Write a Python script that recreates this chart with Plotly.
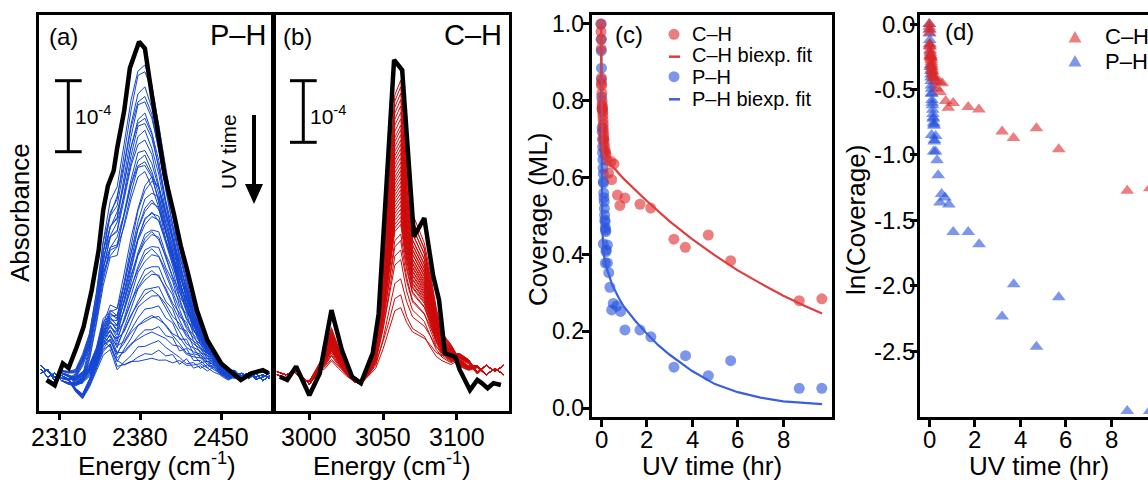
import numpy as np
import plotly.graph_objects as go

W, H = 1148, 483
FONT = "Liberation Sans, Arial, Helvetica, sans-serif"

# ---------------- (a) P-H spectra ----------------
ph_black_energy = [2299, 2306, 2313, 2318, 2325, 2331, 2338, 2344, 2348, 2352, 2357, 2360, 2366, 2371,
                   2379, 2384, 2390, 2396, 2401, 2409, 2415, 2421, 2429, 2438, 2450, 2460, 2467, 2476, 2486, 2491]
ph_black_abs = [-0.04, -0.11, 0.18, 0.12, 0.40, 0.67, 1.16, 1.69, 2.23, 2.55, 2.75, 3.05, 3.54, 4.12,
                4.47, 4.38, 3.76, 3.14, 2.70, 2.18, 1.75, 1.40, 0.89, 0.49, 0.18, 0.05, -0.04, 0.05, 0.09, 0.05]

ph_grid = [2294, 2300, 2306, 2312, 2318, 2324, 2330, 2336, 2342, 2348, 2354, 2360, 2366, 2372, 2378, 2384, 2390,
           2396, 2402, 2408, 2414, 2420, 2426, 2432, 2438, 2444, 2450, 2456, 2462, 2468, 2474, 2480, 2486, 2492]
ph_shape_upper = [0, 0, 0, 0.01, 0.02, 0.04, 0.08, 0.14, 0.24, 0.36, 0.48, 0.60, 0.74, 0.88, 0.98, 1.00, 0.93,
                  0.80, 0.66, 0.53, 0.41, 0.31, 0.22, 0.15, 0.10, 0.06, 0.04, 0.02, 0.01, 0, 0, 0, 0, 0]
ph_shape_lower = [0, 0, 0, 0, 0.01, 0.02, 0.03, 0.05, 0.08, 0.14, 0.22, 0.32, 0.50, 0.68, 0.84, 0.96, 1.00,
                  0.95, 0.82, 0.68, 0.54, 0.42, 0.31, 0.22, 0.14, 0.09, 0.05, 0.03, 0.01, 0, 0, 0, 0, 0]
ph_base1 = [0.10, 0.00, 0.05, -0.05, -0.10, -0.12, -0.08, 0.00, 0.15, 0.35, 0.40, 0.10, 0.10, 0.12, 0.10, 0.10,
            0.12, 0.10, 0.12, 0.10, 0.15, 0.10, 0.12, 0.15, 0.10, 0.05, 0.02, 0.00, -0.02, 0.02, 0.05, 0.00, 0.03, -0.02]
ph_base2 = [0.15, 0.08, 0.00, 0.02, -0.05, -0.20, -0.30, -0.15, 0.05, 0.25, 0.30, 0.00, 0.05, 0.08, 0.15, 0.12,
            0.15, 0.20, 0.15, 0.12, 0.10, 0.05, 0.10, 0.05, 0.12, 0.10, 0.00, -0.05, 0.00, 0.05, -0.02, 0.05, -0.05, 0.02]
ph_base3 = [0.05, 0.10, -0.05, 0.05, 0.00, -0.05, 0.00, 0.05, 0.20, 0.45, 0.35, 0.15, 0.05, 0.05, 0.08, 0.10,
            0.08, 0.15, 0.10, 0.15, 0.05, 0.15, 0.05, 0.10, 0.05, 0.12, 0.05, 0.02, 0.05, -0.02, 0.05, -0.03, 0.00, 0.05]
ph_peak_heights = [4.06, 3.95, 3.77, 3.64, 3.55, 3.42, 3.35, 3.26, 3.19, 3.06, 2.90, 2.86, 2.77, 2.70, 2.64,
                   2.55, 2.46, 2.37, 2.24, 2.17, 2.10, 2.08, 1.99, 1.88, 1.82, 1.75, 1.66, 1.59, 1.48, 1.39,
                   1.30, 1.22, 1.11, 1.04, 0.93, 0.84, 0.70, 0.64, 0.55, 0.48, 0.30, 0.22, 0.13]

# ---------------- (b) C-H spectra ----------------
ch_black_energy = [2980, 2985, 2991, 3000, 3007, 3015, 3022, 3029, 3035, 3043, 3047, 3049, 3051, 3055, 3057.5,
                   3063, 3069.5, 3071, 3078, 3084, 3088, 3092, 3099, 3102, 3109, 3114, 3117, 3121, 3125, 3130]
ch_black_abs = [0.02, -0.03, 0.18, -0.27, 0.07, 1.06, 0.44, 0.02, -0.08, 0.39, 1.00, 1.74, 2.60, 4.11, 4.97,
                4.81, 2.55, 2.21, 2.50, 1.60, 1.22, 0.39, 0.33, 0.13, -0.19, -0.03, -0.08, -0.16, -0.08, -0.11]

ch_grid = [2978, 2984, 2990, 2996, 3000, 3006, 3010, 3015, 3020, 3025, 3030, 3035, 3040, 3045, 3050, 3054,
           3058, 3062, 3066, 3070, 3074, 3078, 3082, 3086, 3090, 3096, 3102, 3108, 3114, 3120, 3126, 3132]
ch_shape = [0, 0, 0, 0, 0, 0.02, 0.07, 0.14, 0.08, 0.03, 0.0, 0.0, 0.03, 0.10, 0.35, 0.65,
            0.95, 1.00, 0.72, 0.52, 0.47, 0.42, 0.32, 0.20, 0.10, 0.05, 0.03, 0.02, 0.01, 0, 0, 0]
ch_base1 = [0.05, 0.00, 0.15, 0.00, -0.10, 0.05, 0.10, 0.15, 0.10, 0.05, 0.00, -0.05, 0.00, 0.05, 0.10, 0.10,
            0.10, 0.10, 0.15, 0.20, 0.20, 0.20, 0.20, 0.20, 0.25, 0.30, 0.15, 0.10, 0.15, 0.05, 0.15, 0.05]
ch_base2 = [0.10, 0.05, 0.10, -0.05, -0.05, 0.10, 0.05, 0.10, 0.05, 0.00, -0.05, -0.10, 0.00, 0.10, 0.15, 0.10,
            0.10, 0.10, 0.10, 0.15, 0.15, 0.15, 0.10, 0.10, 0.15, 0.15, 0.25, 0.20, 0.05, 0.20, 0.10, 0.20]
ch_peak_heights = [4.55, 4.45, 4.35, 4.25, 4.15, 4.05, 3.95, 3.85, 3.78, 3.70, 3.62, 3.55, 3.48, 3.41, 3.34,
                   3.27, 3.20, 3.14, 3.08, 3.02, 2.96, 2.90, 2.84, 2.78, 2.72, 2.66, 2.60, 2.54, 2.48, 2.42,
                   2.36, 2.30, 2.15, 2.05, 1.90, 1.75, 1.45, 1.20, 1.00]

# ---------------- (c)/(d) coverage ----------------
ch_time = [0, 0.0, 0.01, 0.01, 0.02, 0.02, 0.03, 0.04, 0.05, 0.05, 0.06, 0.06, 0.07, 0.08, 0.08, 0.09, 0.10,
           0.10, 0.11, 0.12, 0.12, 0.13, 0.14, 0.16, 0.18, 0.20, 0.22, 0.26, 0.33, 0.45, 0.47, 0.57, 0.72,
           0.83, 1.05, 1.71, 2.18, 3.20, 3.70, 4.71, 5.69, 8.70, 9.69]
ch_cov = [1.0, 0.98, 0.96, 0.935, 0.86, 0.845, 0.84, 0.82, 0.80, 0.79, 0.785, 0.78, 0.775, 0.77, 0.76, 0.75,
          0.74, 0.73, 0.72, 0.71, 0.70, 0.70, 0.69, 0.68, 0.67, 0.665, 0.66, 0.645, 0.612, 0.642, 0.595, 0.636,
          0.555, 0.528, 0.547, 0.531, 0.521, 0.44, 0.419, 0.451, 0.384, 0.280, 0.285]
ph_time = [0, 0.01, 0.01, 0.02, 0.02, 0.03, 0.04, 0.05, 0.05, 0.06, 0.07, 0.07, 0.08, 0.09, 0.10, 0.10, 0.11,
           0.12, 0.13, 0.14, 0.15, 0.16, 0.17, 0.18, 0.19, 0.20, 0.21, 0.10, 0.28, 0.23, 0.22, 0.19, 0.28, 0.34,
           0.39, 0.54, 0.69, 0.47, 0.86, 1.05, 1.71, 2.19, 3.20, 3.71, 4.71, 5.69, 8.70, 9.69]
ph_cov = [1.0, 0.96, 0.93, 0.885, 0.855, 0.81, 0.78, 0.73, 0.72, 0.70, 0.68, 0.665, 0.647, 0.625, 0.61, 0.59,
          0.586, 0.56, 0.548, 0.538, 0.52, 0.503, 0.49, 0.485, 0.47, 0.464, 0.46, 0.428, 0.425, 0.412, 0.408,
          0.378, 0.378, 0.353, 0.315, 0.273, 0.266, 0.256, 0.252, 0.204, 0.204, 0.186, 0.107, 0.137, 0.085,
          0.124, 0.052, 0.052]
ch_fit_t = [0, 0.01, 0.02, 0.04, 0.06, 0.1, 0.2, 0.5, 1, 2, 3, 4, 5, 6, 7, 8, 9, 9.7]
ch_fit_y = [1.0, 0.90, 0.82, 0.73, 0.69, 0.66, 0.652, 0.63, 0.597, 0.54, 0.487, 0.44, 0.398, 0.359, 0.325,
            0.293, 0.265, 0.247]
ph_fit_t = [0, 0.01, 0.02, 0.03, 0.05, 0.08, 0.12, 0.25, 0.5, 0.8, 1.0, 1.5, 2.0, 2.5, 3.0, 4.0, 5.0, 6.0,
            7.0, 8.0, 9.0, 9.7]
ph_fit_y = [1.0, 0.86, 0.74, 0.64, 0.52, 0.44, 0.40, 0.365, 0.32, 0.285, 0.265, 0.228, 0.195, 0.165, 0.14,
            0.097, 0.063, 0.042, 0.028, 0.018, 0.013, 0.011]

ph_energy_ticks = [2310, 2380, 2450]
ch_energy_ticks = [3000, 3050, 3100]
cov_ticks = [0.0, 0.2, 0.4, 0.6, 0.8, 1.0]
ln_ticks = [0.0, -0.5, -1.0, -1.5, -2.0, -2.5]
uv_ticks = [0, 2, 4, 6, 8]

RED = "rgb(222,40,40)"
BLUE = "rgb(35,80,222)"
RED_LINE = "rgb(224,62,62)"
BLUE_LINE = "rgb(58,96,222)"
SPEC_BLUE = "rgb(20,70,210)"
SPEC_RED = "rgb(205,10,10)"


def fx(p):
    return p / W


def fy(p):
    return 1 - p / H


fig = go.Figure()

# (a) spectra
bases_a = [ph_base1, ph_base2, ph_base3]
for i, h in enumerate(ph_peak_heights):
    shape = ph_shape_upper if h >= 2.6 else ph_shape_lower
    y = np.array(bases_a[i % 3]) + h * np.array(shape)
    fig.add_trace(go.Scatter(x=ph_grid, y=y, mode="lines", line=dict(color=SPEC_BLUE, width=1),
                             xaxis="x", yaxis="y", showlegend=False, hoverinfo="skip"))
fig.add_trace(go.Scatter(x=ph_black_energy, y=ph_black_abs, mode="lines",
                         line=dict(color="black", width=4.5), xaxis="x", yaxis="y", showlegend=False))

# (b) spectra
bases_b = [ch_base1, ch_base2]
for i, h in enumerate(ch_peak_heights):
    y = np.array(bases_b[i % 2]) + h * np.array(ch_shape)
    fig.add_trace(go.Scatter(x=ch_grid, y=y, mode="lines", line=dict(color=SPEC_RED, width=1),
                             xaxis="x2", yaxis="y2", showlegend=False, hoverinfo="skip"))
fig.add_trace(go.Scatter(x=ch_black_energy, y=ch_black_abs, mode="lines",
                         line=dict(color="black", width=4.5), xaxis="x2", yaxis="y2", showlegend=False))

# (c) coverage
fig.add_trace(go.Scatter(x=ph_time, y=ph_cov, mode="markers", name="P–H",
                         marker=dict(color=BLUE, size=11, opacity=0.6, line=dict(width=0)),
                         xaxis="x3", yaxis="y3", showlegend=False))
fig.add_trace(go.Scatter(x=ch_time, y=ch_cov, mode="markers", name="C–H",
                         marker=dict(color=RED, size=11, opacity=0.6, line=dict(width=0)),
                         xaxis="x3", yaxis="y3", showlegend=False))
fig.add_trace(go.Scatter(x=ph_fit_t, y=ph_fit_y, mode="lines", name="P–H biexp. fit",
                         line=dict(color=BLUE_LINE, width=2.2), xaxis="x3", yaxis="y3", showlegend=False))
fig.add_trace(go.Scatter(x=ch_fit_t, y=ch_fit_y, mode="lines", name="C–H biexp. fit",
                         line=dict(color=RED_LINE, width=2.2), xaxis="x3", yaxis="y3", showlegend=False))

# (d) ln(coverage)
fig.add_trace(go.Scatter(x=ph_time, y=np.log(ph_cov), mode="markers",
                         marker=dict(symbol="triangle-up", color=BLUE, size=12, opacity=0.6, line=dict(width=0)),
                         xaxis="x4", yaxis="y4", showlegend=False))
fig.add_trace(go.Scatter(x=ch_time, y=np.log(ch_cov), mode="markers",
                         marker=dict(symbol="triangle-up", color=RED, size=12, opacity=0.6, line=dict(width=0)),
                         xaxis="x4", yaxis="y4", showlegend=False))


def ax(**kw):
    d = dict(showgrid=False, zeroline=False, showline=True, linecolor="black", linewidth=3,
             ticks="outside", tickcolor="black", tickwidth=2.5, showticklabels=False)
    d.update(kw)
    return d


ydom_ab = [fy(411), fy(15)]
ydom_cd = [fy(417), fy(15)]

fig.update_layout(
    width=W, height=H, margin=dict(l=0, r=0, t=0, b=0),
    paper_bgcolor="white", plot_bgcolor="white",
    font=dict(family=FONT, color="black"),
    xaxis=ax(domain=[fx(39), fx(273)], range=[2292.4, 2494.8], tickvals=ph_energy_ticks,
             ticklen=6, mirror=True, anchor="y"),
    yaxis=ax(domain=ydom_ab, range=[-0.4533, 4.8267], ticks="", mirror=True, anchor="x"),
    xaxis2=ax(domain=[fx(274), fx(509.3)], range=[2976.0, 3135.7], tickvals=ch_energy_ticks,
              ticklen=6, mirror=True, anchor="y2"),
    yaxis2=ax(domain=ydom_ab, range=[-0.5156, 5.672], ticks="", mirror=True, anchor="x2"),
    xaxis3=ax(domain=[fx(591.7), fx(832.3)], range=[-0.408, 10.15], tickvals=uv_ticks,
              ticklen=7, mirror=True, anchor="y3"),
    yaxis3=ax(domain=ydom_cd, range=[-0.0226, 1.0234], tickvals=cov_ticks, ticklen=7, mirror=True, anchor="x3"),
    xaxis4=ax(domain=[fx(920), 1.0], range=[-0.409, 9.613], tickvals=uv_ticks,
              ticklen=7, mirror=True, anchor="y4"),
    yaxis4=ax(domain=ydom_cd, range=[-3.002, 0.069], tickvals=ln_ticks, ticklen=7, mirror=False, anchor="x4"),
)

ann = []


def text(x, y, s, size, xanchor="center", angle=0, color="black"):
    ann.append(dict(x=fx(x), y=fy(y), xref="paper", yref="paper", text=s, showarrow=False,
                    xanchor=xanchor, yanchor="middle", textangle=angle,
                    font=dict(family=FONT, size=size, color=color)))


def xtick_labels(axref, vals, ypix, size):
    for v in vals:
        ann.append(dict(x=v, xref=axref, y=fy(ypix), yref="paper", text=f"{v:g}", showarrow=False,
                        xanchor="center", yanchor="middle", font=dict(family=FONT, size=size, color="black")))


def ytick_labels(axref, vals, xpix, size):
    for v in vals:
        ann.append(dict(x=fx(xpix), xref="paper", y=v, yref=axref, text=f"{v:.1f}", showarrow=False,
                        xanchor="right", yanchor="middle", xshift=0,
                        font=dict(family=FONT, size=size, color="black")))


# tick labels
xtick_labels("x", ph_energy_ticks, 437, 25)
xtick_labels("x2", ch_energy_ticks, 437, 25)
xtick_labels("x3", uv_ticks, 439, 24)
xtick_labels("x4", uv_ticks, 439, 24)
ytick_labels("y3", cov_ticks, 586, 23)
ytick_labels("y4", ln_ticks, 917, 24)

# axis titles
text(20, 213, "Absorbance", 26, angle=-90)
text(157, 464, "Energy (cm<sup>-1</sup>)", 26)
text(392, 464, "Energy (cm<sup>-1</sup>)", 26)
text(538, 220, "Coverage (ML)", 26, angle=-90)
text(712, 466, "UV time (hr)", 26)
text(856, 220, "ln(Coverage)", 26, angle=-90)
text(1039, 466, "UV time (hr)", 26)

# panel labels
text(47, 37, "(a)", 24, xanchor="left")
text(268, 35, "P–H", 29, xanchor="right")
text(281, 37, "(b)", 24, xanchor="left")
text(504, 35, "C–H", 29, xanchor="right")
text(613, 34, "(c)", 24, xanchor="left")
text(943, 31, "(d)", 24, xanchor="left")

# scale bars labels
text(73, 115, "10<sup>-4</sup>", 21, xanchor="left")
text(308, 115, "10<sup>-4</sup>", 21, xanchor="left")
text(228, 152, "UV time", 21, angle=-90)

# legend (c)
text(690, 34, "C–H", 20, xanchor="left")
text(690, 55.5, "C–H biexp. fit", 20, xanchor="left")
text(690, 77, "P–H", 20, xanchor="left")
text(690, 98.5, "P–H biexp. fit", 20, xanchor="left")
# legend (d)
text(1103, 37, "C–H", 22, xanchor="left")
text(1103, 61, "P–H", 22, xanchor="left")

shapes = []


def pline(x0, y0, x1, y1, w=3, color="black"):
    shapes.append(dict(type="line", xref="paper", yref="paper", x0=fx(x0), y0=fy(y0), x1=fx(x1), y1=fy(y1),
                       line=dict(color=color, width=w)))


def ppath(points, color, opacity=1.0):
    d = "M " + " L ".join(f"{fx(x)},{fy(y)}" for x, y in points) + " Z"
    shapes.append(dict(type="path", xref="paper", yref="paper", path=d, fillcolor=color,
                       line=dict(width=0), opacity=opacity))


def pcircle(cx, cy, r, color, opacity):
    shapes.append(dict(type="circle", xref="paper", yref="paper", x0=fx(cx - r), x1=fx(cx + r),
                       y0=fy(cy + r), y1=fy(cy - r), fillcolor=color, line=dict(width=0), opacity=opacity))


# scale bar (a)
pline(68.3, 80.7, 68.3, 151.7)
pline(55, 80.7, 81.7, 80.7)
pline(55, 151.7, 81.7, 151.7)
# scale bar (b)
pline(303.3, 80.7, 303.3, 142.3)
pline(290, 80.7, 316.7, 80.7)
pline(290, 142.3, 316.7, 142.3)
# UV time arrow
pline(254, 115, 254, 188, w=4)
ppath([(245, 184), (263, 184), (254, 204)], "black")

# legend (c) symbols
pcircle(674, 34.3, 5.5, RED, 0.6)
pline(669, 56.7, 680, 56.7, w=2.5, color=RED_LINE)
pcircle(674, 76.7, 5.5, BLUE, 0.6)
pline(669, 99.3, 680, 99.3, w=2.5, color=BLUE_LINE)
# legend (d) symbols
ppath([(1068.5, 42.5), (1081.5, 42.5), (1075, 31)], RED, 0.6)
ppath([(1068.5, 66.5), (1081.5, 66.5), (1075, 55)], BLUE, 0.6)

fig.update_layout(annotations=ann, shapes=shapes)
fig.write_html("out.html")
